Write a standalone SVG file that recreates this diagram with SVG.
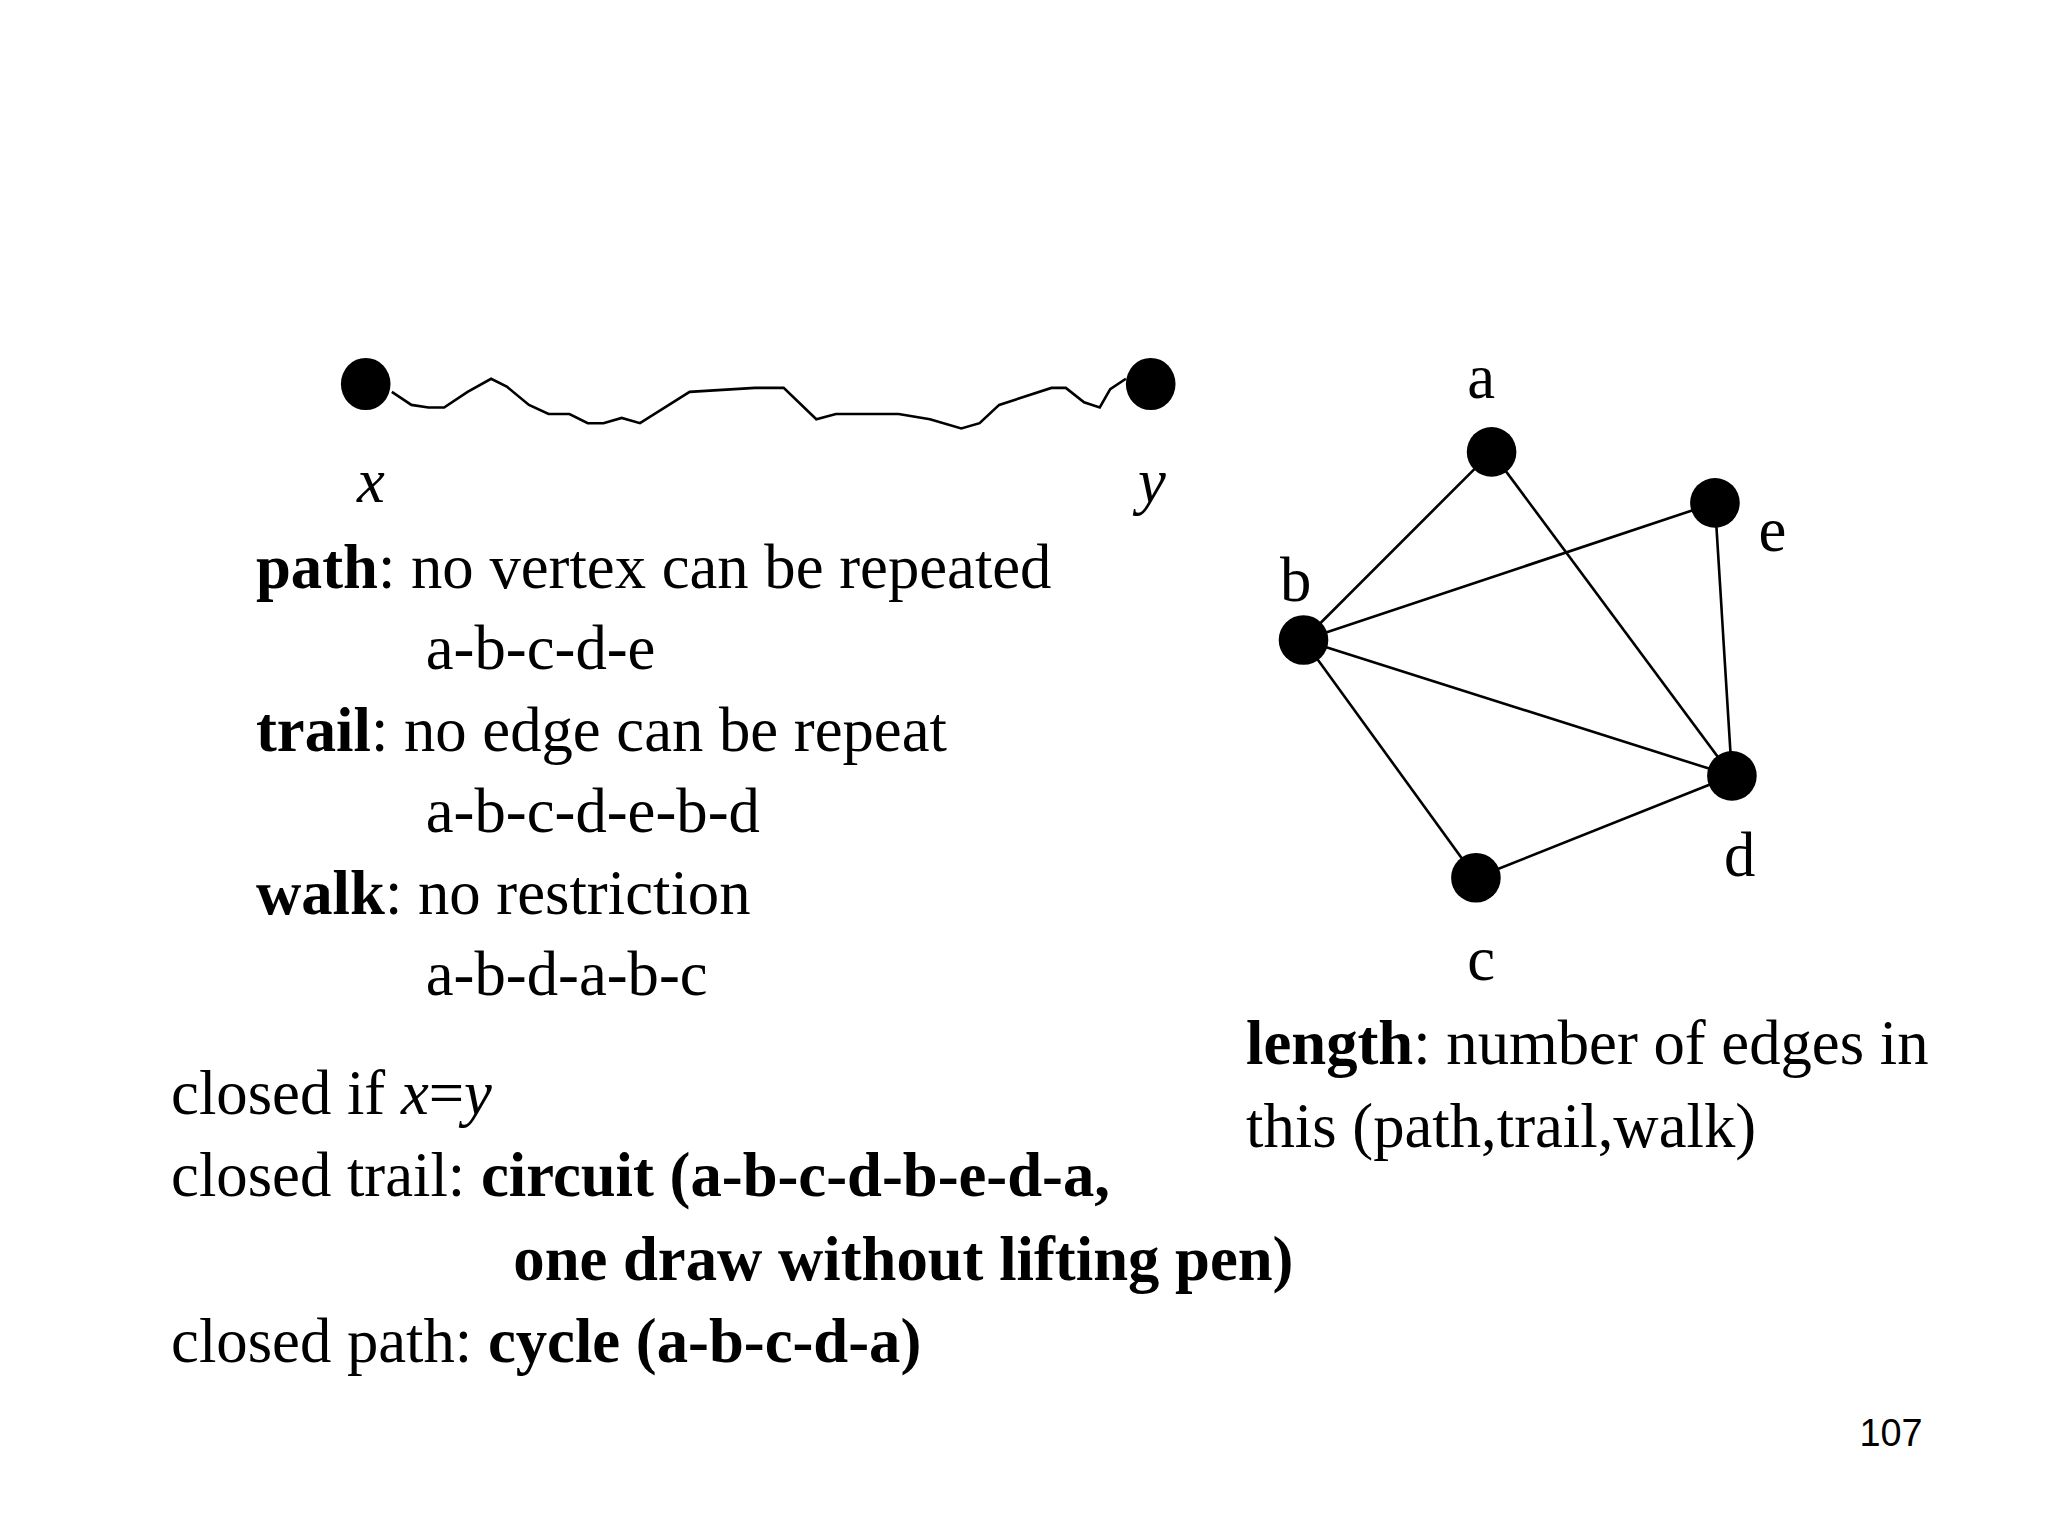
<svg xmlns="http://www.w3.org/2000/svg" width="2048" height="1536" viewBox="0 0 2048 1536">
<style>
text{font-family:"Liberation Serif","Times New Roman",serif;font-size:48px;fill:#000}
.b{font-weight:bold}
.i{font-style:italic}
.n{fill:#000}
.e{stroke:#000;stroke-width:2;fill:none}
</style>
<rect width="2048" height="1536" fill="#fff"/>
<g transform="scale(1.30612)">
<g id="connectors">
<path class="e" d="M300,300 L315,310 L328,312 L340,312 L358,300 L376,290 L388,296 L405,310 L420,317 L436,317 L450,324 L462,324 L476,320 L490,324 L528,300 L578,297 L600,297 L625,321 L640,317 L688,317 L712,321 L736,328 L750,324 L765,310 L805,297 L816,297 L830,308 L842,312 L850,298 L862,290"/>
<line class="e" x1="1142" y1="346" x2="998" y2="490"/>
<line class="e" x1="1142" y1="346" x2="1326" y2="594"/>
<line class="e" x1="998" y1="490" x2="1313" y2="385"/>
<line class="e" x1="998" y1="490" x2="1326" y2="594"/>
<line class="e" x1="998" y1="490" x2="1130" y2="672"/>
<line class="e" x1="1313" y1="385" x2="1326" y2="594"/>
<line class="e" x1="1130" y1="672" x2="1326" y2="594"/>
</g>
<g id="x"><ellipse class="n" cx="280" cy="294" rx="19" ry="20"/><text class="i" x="284" y="384" text-anchor="middle">x</text></g>
<g id="y"><ellipse class="n" cx="881" cy="294" rx="19" ry="20"/><text class="i" x="882" y="384" text-anchor="middle">y</text></g>
<g id="a"><circle class="n" cx="1142" cy="346" r="19"/><text x="1134" y="305" text-anchor="middle">a</text></g>
<g id="e"><circle class="n" cx="1313" cy="385" r="19"/><text x="1357" y="422" text-anchor="middle">e</text></g>
<g id="b"><circle class="n" cx="998" cy="490" r="19"/><text x="992" y="460" text-anchor="middle">b</text></g>
<g id="d"><circle class="n" cx="1326" cy="594" r="19"/><text x="1332" y="671" text-anchor="middle">d</text></g>
<g id="c"><circle class="n" cx="1130" cy="672" r="19"/><text x="1134" y="750" text-anchor="middle">c</text></g>
<g id="text">
<text x="196" y="450"><tspan class="b">path</tspan>: no vertex can be repeated</text>
<text x="326" y="512">a-b-c-d-e</text>
<text x="196" y="575"><tspan class="b">trail</tspan>: no edge can be repeat</text>
<text x="326" y="637">a-b-c-d-e-b-d</text>
<text x="196" y="700"><tspan class="b">walk</tspan>: no restriction</text>
<text x="326" y="762">a-b-d-a-b-c</text>
<text x="131" y="853">closed if <tspan class="i">x</tspan>=<tspan class="i">y</tspan></text>
<text x="131" y="916">closed trail: <tspan class="b">circuit (a-b-c-d-b-e-d-a,</tspan></text>
<text x="393" y="980" class="b">one draw without lifting pen)</text>
<text x="131" y="1043">closed path: <tspan class="b">cycle (a-b-c-d-a)</tspan></text>
<text x="954" y="815"><tspan class="b">length</tspan>: number of edges in</text>
<text x="954" y="878">this (path,trail,walk)</text>
<text x="1472" y="1107" text-anchor="end" style="font-family:'Liberation Sans',Arial,sans-serif;font-size:29px">107</text>
</g>
</g>
</svg>
